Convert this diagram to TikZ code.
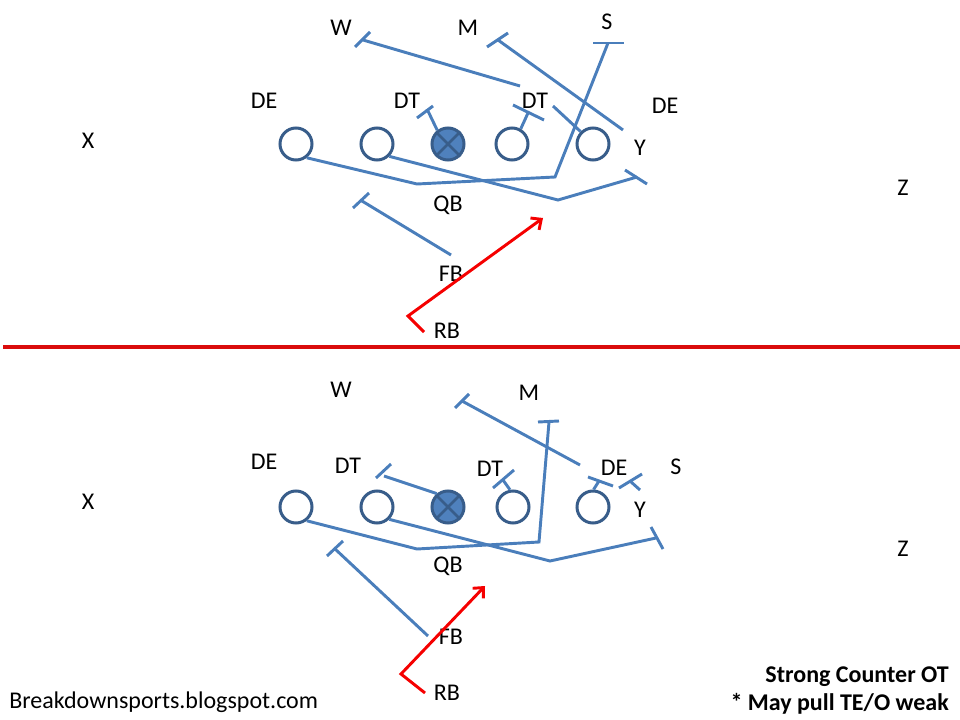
\documentclass[tikz,border=0pt]{standalone}
\usepackage{fontspec}
\setmainfont{Carlito}
\usetikzlibrary{arrows.meta}
\definecolor{lineblue}{RGB}{74,126,187}
\definecolor{darkblue}{RGB}{56,93,138}
\definecolor{fillblue}{RGB}{79,129,189}
\definecolor{divred}{RGB}{218,12,12}
\definecolor{arrred}{RGB}{245,0,0}
\begin{document}
\begin{tikzpicture}[x=0.75pt,y=-0.75pt,
  player/.style={circle,draw=darkblue,line width=2.25pt,minimum size=24pt,inner sep=0pt,fill=white},
  centerman/.style={player,fill=fillblue},
  lbl/.style={font=\fontsize{18}{21}\selectfont,inner sep=0pt},
  block/.style={draw=lineblue,line width=2.2pt},
  runpath/.style={draw=arrred,line width=2.2pt,-{Straight Barb[length=6pt,width=11pt]}},
  divider/.style={draw=divred,line width=2.3pt}]
\useasboundingbox (0,0) rectangle (960,720);

% ================= TOP HALF =================
\node[player] (tc1) at (296,144) {};
\node[player] (tc2) at (377,144) {};
\node[centerman] (tc3) at (448,144) {};
\draw[darkblue,line width=2pt] (tc3.north west) -- (tc3.south east) (tc3.north east) -- (tc3.south west);
\node[player] (tc4) at (512,144) {};
\node[player] (tc5) at (593,144) {};

\node[lbl] (tW) at (341,28) {W};
\node[lbl] (tM) at (468,28) {M};
\node[lbl] (tS) at (607,22) {S};
\node[lbl] (tDEl) at (264,101) {DE};
\node[lbl] (tDT1) at (407,101) {DT};
\node[lbl] (tDT2) at (535,101) {DT};
\node[lbl] (tDEr) at (665,106) {DE};
\node[lbl] (tX) at (88,141) {X};
\node[lbl] (tY) at (640,148) {Y};
\node[lbl] (tZ) at (903,188) {Z};
\node[lbl] (tQB) at (448,205) {QB};
\node[lbl] (tFB) at (451,274) {FB};
\node[lbl] (tRB) at (447,331) {RB};

% coordinates
\coordinate (tA1) at (417,184);
\coordinate (tA2) at (555,177);
\coordinate (tA3) at (608,43);
\coordinate (tA3a) at (593,43);
\coordinate (tA3b) at (624,43);
\coordinate (tB1) at (558,200);
\coordinate (tB2) at (637,177);
\coordinate (tB2a) at (625,170);
\coordinate (tB2b) at (647,184);
\coordinate (tC1) at (427,109);
\coordinate (tC1a) at (417,118);
\coordinate (tC1b) at (433,106);
\coordinate (tD1) at (528,113);
\coordinate (tD1a) at (513,105);
\coordinate (tD1b) at (544,120);
\coordinate (tE1) at (553,106);
\coordinate (tW1) at (363,40);
\coordinate (tW1a) at (355,47);
\coordinate (tW1b) at (370,32);
\coordinate (tW2) at (520,86);
\coordinate (tM1) at (498,40);
\coordinate (tM1a) at (487,47);
\coordinate (tM1b) at (508,33);
\coordinate (tM2) at (623,130);
\coordinate (tF1) at (451,255);
\coordinate (tF2) at (362,201);
\coordinate (tF2a) at (353,208);
\coordinate (tF2b) at (369,193);
\coordinate (tR1) at (424,332);
\coordinate (tR2) at (408,316);
\coordinate (tR3) at (543,218);

\draw[block] (tc1.-52) -- (tA1) -- (tA2) -- (tA3);
\draw[block] (tA3a) -- (tA3b);
\draw[block] (tc2.-45) -- (tB1) -- (tB2);
\draw[block] (tB2a) -- (tB2b);
\draw[block] (tc3.128) -- (tC1);
\draw[block] (tC1a) -- (tC1b);
\draw[block] (tc4.60) -- (tD1);
\draw[block] (tD1a) -- (tD1b);
\draw[block] (tc5.135) -- (tE1);
\draw[block] (tW1) -- (tW2);
\draw[block] (tW1a) -- (tW1b);
\draw[block] (tM1) -- (tM2);
\draw[block] (tM1a) -- (tM1b);
\draw[block] (tF1) -- (tF2);
\draw[block] (tF2a) -- (tF2b);
\draw[runpath] (tR1) -- (tR2) -- (tR3);

% divider
\coordinate (dL) at (3,347);
\coordinate (dR) at (960,347);
\draw[divider] (dL) -- (dR);

% ================= BOTTOM HALF =================
\node[player] (bc1) at (296,507) {};
\node[player] (bc2) at (377,507) {};
\node[centerman] (bc3) at (448,507) {};
\draw[darkblue,line width=2pt] (bc3.north west) -- (bc3.south east) (bc3.north east) -- (bc3.south west);
\node[player] (bc4) at (513,507) {};
\node[player] (bc5) at (593,507) {};

\node[lbl] (bW) at (341,390) {W};
\node[lbl] (bM) at (529,393) {M};
\node[lbl] (bDEl) at (264,462) {DE};
\node[lbl] (bDT1) at (348,466) {DT};
\node[lbl] (bDT2) at (490,469) {DT};
\node[lbl] (bDEr) at (614,468) {DE};
\node[lbl] (bS) at (676,467) {S};
\node[lbl] (bX) at (88,502) {X};
\node[lbl] (bY) at (640,510) {Y};
\node[lbl] (bZ) at (903,549) {Z};
\node[lbl] (bQB) at (448,566) {QB};
\node[lbl] (bFB) at (451,637) {FB};
\node[lbl] (bRB) at (447,693) {RB};

\coordinate (bA1) at (417,549);
\coordinate (bA2) at (539,542);
\coordinate (bA3) at (549,422);
\coordinate (bA3a) at (538,422);
\coordinate (bA3b) at (559,421);
\coordinate (bB1) at (550,561);
\coordinate (bB2) at (656,538);
\coordinate (bB2a) at (651,527);
\coordinate (bB2b) at (663,549);
\coordinate (bC1) at (384,476);
\coordinate (bC1a) at (376,478);
\coordinate (bC1b) at (391,464);
\coordinate (bD1) at (503,480);
\coordinate (bD1a) at (493,488);
\coordinate (bD1b) at (514,470);
\coordinate (bE1) at (599,481);
\coordinate (bE1a) at (588,477);
\coordinate (bE1b) at (613,486);
\coordinate (bS1) at (640,490);
\coordinate (bS2) at (630,481);
\coordinate (bS2a) at (619,488);
\coordinate (bS2b) at (642,474);
\coordinate (bM1) at (462,401);
\coordinate (bM1a) at (455,408);
\coordinate (bM1b) at (469,394);
\coordinate (bM2) at (580,465);
\coordinate (bF1) at (428,636);
\coordinate (bF2) at (334,548);
\coordinate (bF2a) at (327,556);
\coordinate (bF2b) at (343,541);
\coordinate (bR1) at (425,693);
\coordinate (bR2) at (401,674);
\coordinate (bR3) at (485,586);

\draw[block] (bc1.-52) -- (bA1) -- (bA2) -- (bA3);
\draw[block] (bA3a) -- (bA3b);
\draw[block] (bc2.-45) -- (bB1) -- (bB2);
\draw[block] (bB2a) -- (bB2b);
\draw[block] (bc3.130) -- (bC1);
\draw[block] (bC1a) -- (bC1b);
\draw[block] (bc4.100) -- (bD1);
\draw[block] (bD1a) -- (bD1b);
\draw[block] (bc5.88) -- (bE1);
\draw[block] (bE1a) -- (bE1b);
\draw[block] (bS1) -- (bS2);
\draw[block] (bS2a) -- (bS2b);
\draw[block] (bM1) -- (bM2);
\draw[block] (bM1a) -- (bM1b);
\draw[block] (bF1) -- (bF2);
\draw[block] (bF2a) -- (bF2b);
\draw[runpath] (bR1) -- (bR2) -- (bR3);

% texts
\node[font=\fontsize{18}{21}\selectfont\bfseries,inner sep=0pt,anchor=base east] (title1) at (949,682) {Strong Counter OT};
\node[font=\fontsize{18}{21}\selectfont\bfseries,inner sep=0pt,anchor=base east] (title2) at (949,710) {* May pull TE/O weak};
\node[font=\fontsize{18}{21}\selectfont,inner sep=0pt,anchor=base west] (site) at (9,708) {Breakdownsports.blogspot.com};
\end{tikzpicture}
\end{document}
